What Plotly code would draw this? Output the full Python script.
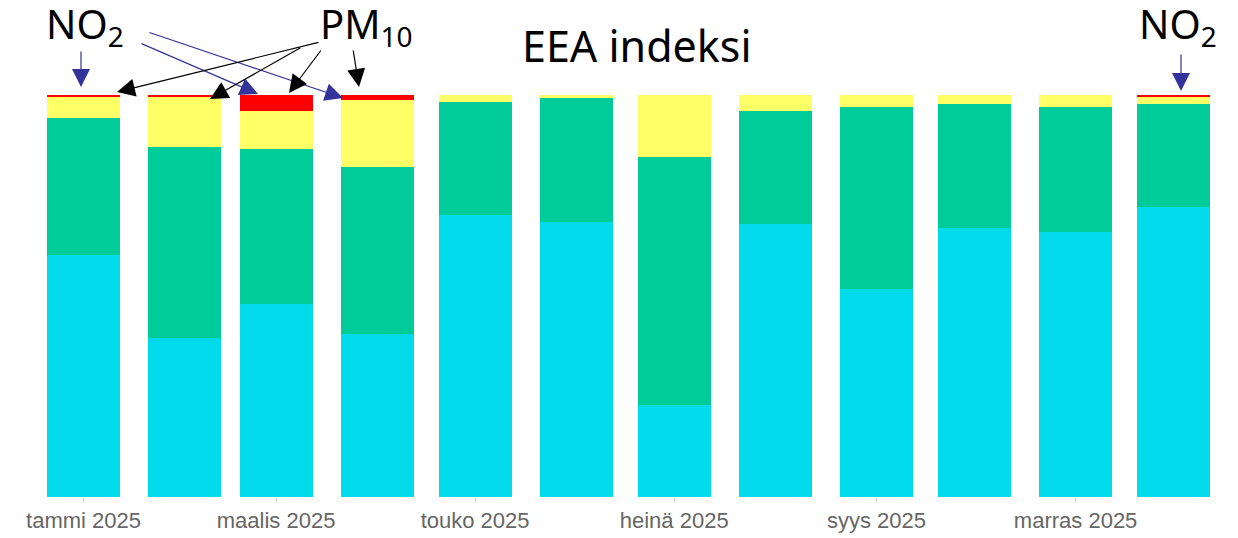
import pandas as pd
import plotly.graph_objects as go

# Months (bar positions on a date axis)
months = ["2025-01-01", "2025-02-01", "2025-03-01", "2025-04-01", "2025-05-01", "2025-06-01",
          "2025-07-01", "2025-08-01", "2025-09-01", "2025-10-01", "2025-11-01", "2025-12-01"]

# Share of hours (%) per EEA index class
good = [60.2, 39.6, 48.0, 40.5, 70.1, 68.4, 22.9, 67.9, 51.7, 66.9, 65.9, 72.1]
fair = [34.2, 47.5, 38.5, 41.5, 28.2, 30.8, 61.7, 28.2, 45.2, 30.8, 31.2, 25.6]
moderate = [5.0, 12.6, 9.5, 16.7, 1.7, 0.8, 15.4, 3.9, 3.1, 2.3, 2.9, 2.0]
poor = [0.6, 0.3, 4.0, 1.3, 0.0, 0.0, 0.0, 0.0, 0.0, 0.0, 0.0, 0.3]

tick_vals = ["2025-01-01", "2025-03-01", "2025-05-01", "2025-07-01", "2025-09-01", "2025-11-01"]
tick_text = ["tammi 2025", "maalis 2025", "touko 2025", "heinä 2025", "syys 2025", "marras 2025"]

colors = ["#02DBEC", "#00CC99", "#FFFF66", "#FF0000"]
series = [good, fair, moderate, poor]

OFF = 8  # page body margin
W, H = 1238 - OFF, 538 - OFF
plot_top, plot_bottom = 95 - OFF, 497 - OFF
px_per_day = 3.2635
x0_px = 83.5 - OFF  # pixel of 2025-01-01
bar_days = 22.4

jan1 = pd.Timestamp("2025-01-01")
range_start = jan1 - pd.Timedelta(days=x0_px / px_per_day)
range_end = range_start + pd.Timedelta(days=W / px_per_day)

fig = go.Figure()
for vals, col in zip(series, colors):
    fig.add_trace(go.Bar(
        x=months, y=vals, marker_color=col, marker_line_width=0,
        width=bar_days * 86400000, showlegend=False,
    ))

fig.update_layout(
    barmode="stack",
    width=W, height=H,
    margin=dict(l=0, r=0, t=plot_top, b=H - plot_bottom),
    plot_bgcolor="white", paper_bgcolor="white",
    xaxis=dict(type="date", range=[range_start, range_end], tickvals=tick_vals, ticktext=tick_text,
               ticks="outside", ticklen=4, tickcolor="#d0d0d0", showgrid=False, zeroline=False,
               showline=False, tickfont=dict(family="Liberation Sans", size=22, color="#666666")),
    yaxis=dict(range=[0, 100], visible=False, showgrid=False),
)

plot_h = plot_bottom - plot_top


def px(xp):
    return (xp - OFF) / W


def py(yp):
    return (plot_bottom - (yp - OFF)) / plot_h


# Title and labels
fig.add_annotation(x=px(637), y=py(45), xref="paper", yref="paper", text="EEA indeksi",
                   showarrow=False, font=dict(family="Noto Sans", size=43, color="black"),
                   xanchor="center", yanchor="middle", borderpad=0)
label_font = dict(family="Noto Sans", size=40, color="black")
for lx, txt in [(45, "NO<sub>2</sub>"), (319, "PM<sub>10</sub>"), (1138, "NO<sub>2</sub>")]:
    fig.add_annotation(x=px(lx), y=py(25), xref="paper", yref="paper", text=txt,
                       showarrow=False, font=label_font, xanchor="left", yanchor="middle",
                       borderpad=0)

# Arrows: (tail_x, tail_y, tip_x, tip_y, color)
arrows = [
    (81, 50, 81, 87, "#333399"),
    (140, 43, 258, 94, "#333399"),
    (148, 32, 343, 98, "#333399"),
    (1181, 53, 1181, 91, "#333399"),
    (320, 42, 117, 92, "black"),
    (302, 47, 210, 99, "black"),
    (322, 49, 289, 93, "black"),
    (353, 49, 359, 87, "black"),
]
for tx, ty, hx, hy, c in arrows:
    fig.add_annotation(x=px(hx), y=py(hy), xref="paper", yref="paper", text="",
                       showarrow=True, ax=tx - hx, ay=ty - hy, axref="pixel", ayref="pixel",
                       arrowhead=2, arrowsize=3, arrowwidth=1.2, arrowcolor=c, standoff=0)

fig.write_html("out.html")
